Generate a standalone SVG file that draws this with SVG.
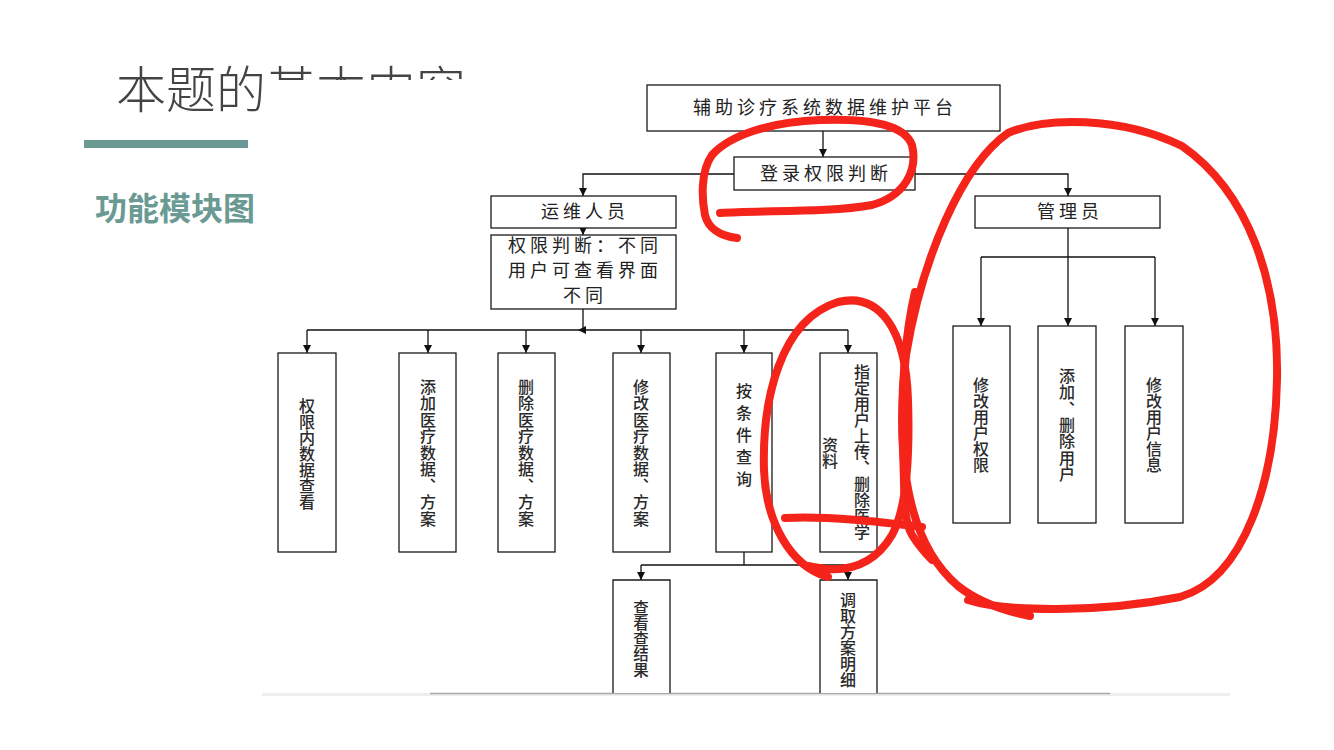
<svg xmlns="http://www.w3.org/2000/svg" width="1334" height="750" viewBox="0 0 1334 750">
<defs>
<marker id="arr" markerUnits="userSpaceOnUse" markerWidth="10" markerHeight="10" refX="8" refY="4" orient="auto">
<path d="M0,0 L8,4 L0,8 z" fill="#111"/>
</marker>
<style>
.box{fill:#fff;stroke:#1a1a1a;stroke-width:1.3}
.t{font-family:"Noto Sans CJK SC","Noto Sans CJK JP",sans-serif;font-size:18px;fill:#222;letter-spacing:4px;text-anchor:middle}
.v{font-family:"Noto Sans CJK SC","Noto Sans CJK JP",sans-serif;font-size:16px;font-weight:500;fill:#2a2a2a;text-anchor:middle;writing-mode:vertical-rl;letter-spacing:0px}
.c{fill:none;stroke:#111;stroke-width:1.3}
.ca{fill:none;stroke:#111;stroke-width:1.3;marker-end:url(#arr)}
.red{fill:none;stroke:#f4241b;stroke-width:8;stroke-linecap:round;stroke-linejoin:round}
</style>
</defs>
<rect width="1334" height="750" fill="#fff"/>
<g id="slide">
<text x="116" y="108" font-family="'Noto Sans CJK SC',sans-serif" font-weight="300" font-size="50" fill="#444">本题的基本内容</text>
<rect x="267" y="80" width="969" height="613" fill="#fff"/>
<rect x="84" y="140" width="164" height="8" fill="#6a9a93"/>
<text x="95" y="220" font-family="'Noto Sans CJK SC',sans-serif" font-weight="700" font-size="32" fill="#6a9a93">功能模块图</text>
<rect x="262" y="693" width="968" height="3" fill="#eeeeee"/>
<line x1="430" y1="693.5" x2="1110" y2="693.5" stroke="#a8a8a8" stroke-width="1.5"/>
</g>
<g id="connectors">
<line class="ca" x1="823" y1="131" x2="823" y2="157"/>
<polyline class="ca" points="734,174 583,174 583,196"/>
<polyline class="ca" points="915,174 1068,174 1068,196"/>
<line class="ca" x1="583" y1="228" x2="583" y2="235"/>
<line class="c" x1="583" y1="309" x2="583" y2="330"/>
<line class="c" x1="307" y1="330" x2="848" y2="330"/>
<path d="M578,330 L586,326 L586,334 z" fill="#111"/>
<line class="ca" x1="307" y1="330" x2="307" y2="353"/>
<line class="ca" x1="428" y1="330" x2="428" y2="353"/>
<line class="ca" x1="526" y1="330" x2="526" y2="353"/>
<line class="ca" x1="641" y1="330" x2="641" y2="353"/>
<line class="ca" x1="744" y1="330" x2="744" y2="353"/>
<line class="ca" x1="848" y1="330" x2="848" y2="353"/>
<line class="c" x1="744" y1="552" x2="744" y2="565"/>
<line class="c" x1="641" y1="565" x2="848" y2="565"/>
<line class="ca" x1="641" y1="565" x2="641" y2="580"/>
<line class="ca" x1="848" y1="565" x2="848" y2="580"/>
<line class="ca" x1="1068" y1="228" x2="1068" y2="326"/>
<line class="c" x1="981" y1="257" x2="1155" y2="257"/>
<line class="ca" x1="981" y1="257" x2="981" y2="326"/>
<line class="ca" x1="1155" y1="257" x2="1155" y2="326"/>
</g>
<g id="n-platform"><rect class="box" x="647" y="85" width="353" height="46"/><text class="t" x="825" y="114">辅助诊疗系统数据维护平台</text></g>
<g id="n-login"><rect class="box" x="734" y="157" width="181" height="33"/><text class="t" x="826" y="180">登录权限判断</text></g>
<g id="n-ops"><rect class="box" x="491" y="196" width="185" height="32"/><text class="t" x="585" y="218">运维人员</text></g>
<g id="n-admin"><rect class="box" x="975" y="196" width="185" height="32"/><text class="t" x="1070" y="218">管理员</text></g>
<g id="n-perm"><rect class="box" x="491" y="235" width="185" height="74"/>
<text class="t" x="585" y="252">权限判断：不同</text>
<text class="t" x="585" y="277">用户可查看界面</text>
<text class="t" x="585" y="302">不同</text></g>
<g id="n-view"><rect class="box" x="278" y="353" width="58" height="199"/>
<text class="v" x="307" y="454">权限内数据查看</text></g>
<g id="n-add"><rect class="box" x="399" y="353" width="57" height="199"/>
<text class="v" x="428" y="453" style="letter-spacing:0.5px">添加医疗数据、方案</text></g>
<g id="n-del"><rect class="box" x="498" y="353" width="57" height="199"/>
<text class="v" x="526" y="453" style="letter-spacing:0.5px">删除医疗数据、方案</text></g>
<g id="n-mod"><rect class="box" x="613" y="353" width="57" height="199"/>
<text class="v" x="641" y="453" style="letter-spacing:0.5px">修改医疗数据、方案</text></g>
<g id="n-query"><rect class="box" x="716" y="353" width="56" height="199"/>
<text class="v" x="744" y="438" style="letter-spacing:6px">按条件查询</text></g>
<g id="n-upload"><rect class="box" x="820" y="353" width="57" height="199"/>
<text class="v" x="862" y="452">指定用户上传、删除医学</text>
<text class="v" x="830" y="453">资料</text></g>
<g id="n-result"><path class="box" d="M613,693 V580 H670 V693"/>
<text class="v" x="641" y="639" style="font-size:15.5px">查看查结果</text></g>
<g id="n-detail"><path class="box" d="M820,693 V580 H877 V693"/>
<text class="v" x="848" y="640">调取方案明细</text></g>
<g id="n-userperm"><rect class="box" x="953" y="326" width="57" height="197"/>
<text class="v" x="981" y="425">修改用户权限</text></g>
<g id="n-useradd"><rect class="box" x="1038" y="326" width="58" height="197"/>
<text class="v" x="1067" y="425" style="letter-spacing:0.3px">添加、删除用户</text></g>
<g id="n-userinfo"><rect class="box" x="1125" y="326" width="58" height="197"/>
<text class="v" x="1154" y="425">修改用户信息</text></g>
<g id="annotations">
<path class="red" d="M720,213 C760,210 830,213 872,205 C905,196 918,170 912,145 C905,125 870,118 820,120 C770,122 730,135 712,155 C700,172 702,200 705,215 C708,228 720,236 737,238"/>
<path class="red" d="M968,600 C1005,612 1100,613 1180,597 C1245,578 1275,480 1277,380 C1279,280 1248,192 1182,146 C1120,116 1045,117 1008,133 C962,165 922,258 906,355 C896,450 904,540 958,586 C982,605 1010,612 1030,616"/>
<path class="red" d="M828,577 C790,566 766,522 764,470 C762,400 780,320 838,302 C880,292 906,330 908,400 C910,460 906,510 892,535 C876,562 850,576 808,566"/>
<path class="red" d="M915,292 C906,330 900,390 903,450 C905,500 903,518 912,535 C920,548 928,556 932,560"/>
<path class="red" d="M785,518 C830,516 880,522 922,527"/>
</g>
</svg>
